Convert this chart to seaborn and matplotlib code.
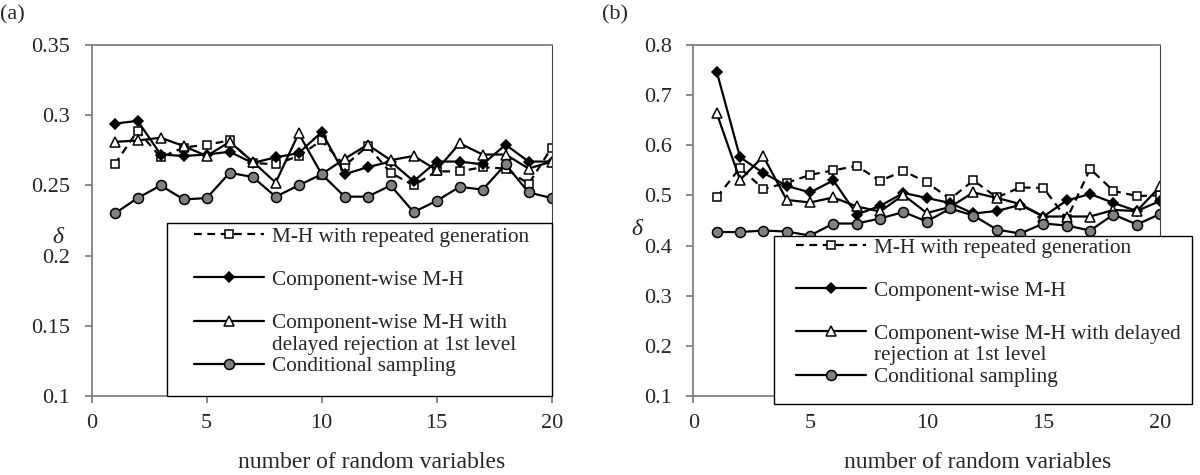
"""Two-panel comparison of delta vs number of random variables (MCMC samplers)."""

import matplotlib
matplotlib.use("Agg")
import matplotlib.pyplot as plt
import seaborn as sns
from matplotlib.patches import Rectangle
from matplotlib.lines import Line2D

N_VARS = list(range(1, 21))

LABELS = [
    "M-H with repeated generation",
    "Component-wise M-H",
    "Component-wise M-H with",
    "Conditional sampling",
]
LABEL_3B_A = "delayed rejection at 1st level"
LABEL_3_B = "Component-wise M-H with delayed"
LABEL_3B_B = "rejection at 1st level"

# panel (a)
A_REPEATED = [0.265, 0.289, 0.270, 0.277, 0.279, 0.282, 0.266, 0.265, 0.271, 0.282,
              0.264, 0.278, 0.259, 0.250, 0.260, 0.260, 0.263, 0.262, 0.251, 0.277]
A_COMPONENT = [0.294, 0.296, 0.272, 0.271, 0.272, 0.274, 0.266, 0.270, 0.273, 0.288,
               0.258, 0.263, 0.267, 0.253, 0.267, 0.267, 0.265, 0.279, 0.267, 0.267]
A_DELAYED = [0.281, 0.282, 0.284, 0.278, 0.271, 0.281, 0.267, 0.252, 0.287, 0.258,
             0.269, 0.279, 0.268, 0.271, 0.261, 0.280, 0.272, 0.272, 0.262, 0.267]
A_CONDITIONAL = [0.230, 0.241, 0.250, 0.240, 0.241, 0.259, 0.256, 0.242, 0.250, 0.258,
                 0.242, 0.242, 0.250, 0.231, 0.239, 0.249, 0.247, 0.265, 0.245, 0.241]

# panel (b)
B_REPEATED = [0.496, 0.555, 0.513, 0.525, 0.541, 0.550, 0.559, 0.529, 0.549, 0.526,
              0.493, 0.530, 0.496, 0.516, 0.515, 0.453, 0.553, 0.509, 0.499, 0.500]
B_COMPONENT = [0.747, 0.576, 0.545, 0.519, 0.506, 0.530, 0.462, 0.479, 0.505, 0.495,
               0.485, 0.464, 0.469, 0.481, 0.458, 0.490, 0.503, 0.485, 0.469, 0.489]
B_DELAYED = [0.664, 0.531, 0.578, 0.491, 0.486, 0.496, 0.478, 0.468, 0.501, 0.465,
             0.477, 0.506, 0.495, 0.483, 0.458, 0.458, 0.458, 0.471, 0.469, 0.518]
B_CONDITIONAL = [0.427, 0.427, 0.430, 0.428, 0.420, 0.444, 0.444, 0.454, 0.467, 0.448,
                 0.474, 0.460, 0.432, 0.424, 0.444, 0.440, 0.430, 0.462, 0.442, 0.463]

sns.set_theme(style="white", context="notebook")
plt.rcParams["font.family"] = ["Liberation Serif", "DejaVu Serif"]
plt.rcParams["font.size"] = 15

GRAY = "#808080"
STYLES = [
    dict(marker="s", markersize=5.5, markerfacecolor="white", linestyle=(0, (3.5, 2.5))),
    dict(marker="D", markersize=5, markerfacecolor="black", linestyle="-"),
    dict(marker="^", markersize=6.5, markerfacecolor="white", linestyle="-"),
    dict(marker="o", markersize=7.2, markerfacecolor=GRAY, linestyle="-"),
]


def draw_panel(ax, series, ylim, yticks, label3, label3b, box, anchor, ylabel_xy):
    for vals, lab, st in zip(series, LABELS[:2] + [label3] + LABELS[3:], STYLES):
        sns.lineplot(x=N_VARS, y=vals, ax=ax, color="black", linewidth=1.6,
                     markeredgecolor="black", markeredgewidth=1.1, label=lab, **st)

    ax.set_xlim(0, 20)
    ax.set_ylim(*ylim)
    ax.set_xticks(range(0, 21, 5))
    ax.set_yticks(yticks)
    ax.set_yticklabels([f"{t:g}" for t in yticks])
    for s in ax.spines.values():
        s.set_color(GRAY)
        s.set_linewidth(1.3)
    ax.spines["right"].set_color("#404040")
    ax.spines["right"].set_linewidth(0.8)
    ax.tick_params(axis="both", which="major", direction="out", length=5, width=1.3,
                   color=GRAY, labelsize=16, left=True, bottom=True)
    ax.tick_params(axis="x", pad=8)
    ax.tick_params(axis="y", pad=10.5)

    ax.set_xlabel("number of random variables", fontsize=17)
    ax.xaxis.set_label_coords(0.608, -0.16)
    ax.set_ylabel("δ", rotation=0, fontstyle="italic", fontsize=17,
                  va="center", ha="center")
    ax.yaxis.set_label_coords(*ylabel_xy)

    # legend box with white fill covering the lines
    ax.add_patch(Rectangle((box[0], box[1]), box[2], box[3], transform=ax.transAxes,
                           facecolor="white", edgecolor="black", linewidth=1.0,
                           zorder=4, clip_on=False))

    handles, labels = ax.get_legend_handles_labels()
    blank = Line2D([], [], linestyle="none")
    order_h = [handles[0], blank, handles[1], blank, handles[2], blank, handles[3]]
    order_l = [labels[0], " ", labels[1], " ", labels[2], label3b, labels[3]]
    ax.legend(order_h, order_l, loc="upper left", bbox_to_anchor=anchor,
              frameon=False, borderpad=0, borderaxespad=0, labelspacing=0.08,
              handlelength=3.3, handletextpad=0.35, numpoints=1, fontsize=15.3)


fig = plt.figure(figsize=(12, 4.75), dpi=100)
ax_a = fig.add_axes([0.0764, 0.1663, 0.3833, 0.7389])
ax_b = fig.add_axes([0.5778, 0.1663, 0.3890, 0.7389])

draw_panel(ax_a, [A_REPEATED, A_COMPONENT, A_DELAYED, A_CONDITIONAL],
           (0.1, 0.35), [0.1, 0.15, 0.2, 0.25, 0.3, 0.35],
           LABELS[2], LABEL_3B_A, (0.1645, 0.0, 0.8355, 0.494), (0.223, 0.482),
           (-0.073, 0.453))
draw_panel(ax_b, [B_REPEATED, B_COMPONENT, B_DELAYED, B_CONDITIONAL],
           (0.1, 0.8), [0.1, 0.2, 0.3, 0.4, 0.5, 0.6, 0.7, 0.8],
           LABEL_3_B, LABEL_3B_B, (0.173, -0.024, 0.895, 0.48), (0.220, 0.451),
           (-0.122, 0.475))

fig.text(0.0, 0.99, "(a)", fontsize=16, va="top")
fig.text(0.502, 0.99, "(b)", fontsize=16, va="top")

fig.savefig("out.png", dpi=100)
